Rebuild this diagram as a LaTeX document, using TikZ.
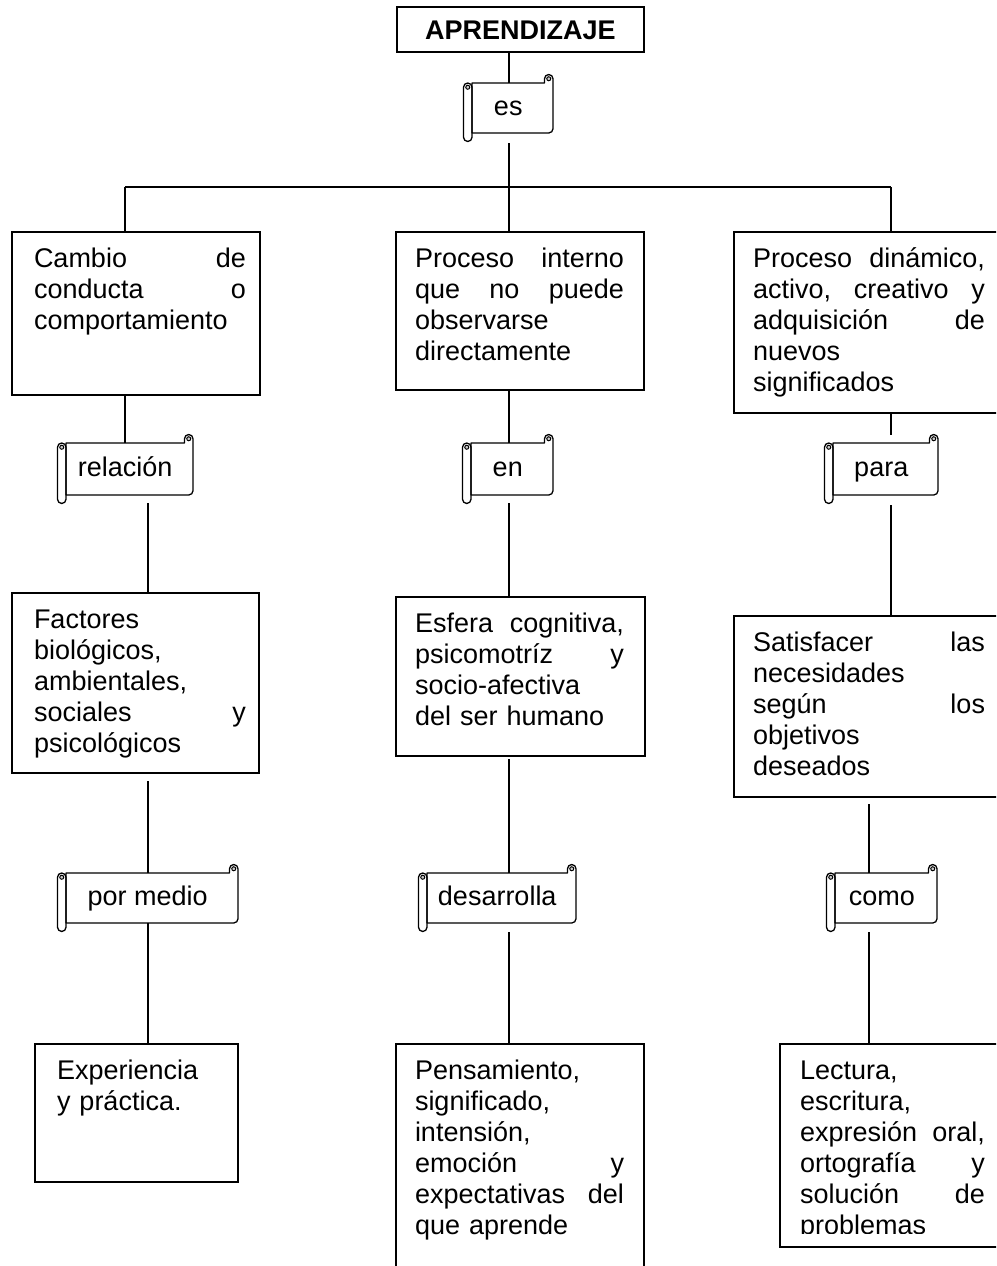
\documentclass[tikz,border=0pt]{standalone}
\usepackage{fontspec}
\setmainfont{Liberation Sans}
\usetikzlibrary{calc}
\newcommand\scrollframe[1]{%
 \path[scrollline] let \p1=(#1.north west), \p2=(#1.south east) in
  (\x1,\y1) -- ({\x2-8.5pt},\y1) -- ({\x2-8.5pt},{\y1+4.25pt})
  arc[start angle=180,end angle=0,radius=4.25pt] -- (\x2,{\y2+4.25pt})
  arc[start angle=0,end angle=-90,radius=4.25pt] -- (\x1,\y2) -- cycle;
 \path[scrollline] let \p1=(#1.north west), \p2=(#1.south east) in
  ({\x1-8.5pt},{\y1-4.25pt}) arc[start angle=180,end angle=0,radius=4.25pt]
  -- (\x1,{\y2-4.25pt}) arc[start angle=0,end angle=-180,radius=4.25pt] -- cycle;
 \path[curl] let \p1=(#1.north west), \p2=(#1.south east) in
  ({\x2-4.25pt},{\y1+4.25pt}) circle[radius=2pt]
  ({\x1-4.25pt},{\y1-4.25pt}) circle[radius=2pt];
}
\begin{document}
\begin{tikzpicture}[x=1pt,y=-1pt,
  every node/.style={inner sep=0pt, outer sep=0pt},
  frame/.style={draw, line width=1.3pt, rectangle, anchor=north west},
  txt/.style={anchor=north west, align=left, font=\fontsize{27}{31}\selectfont},
  scrl/.style={rectangle, font=\fontsize{27}{31}\selectfont, text height=19pt, text depth=5pt},
  scrollline/.style={draw, line width=1.3pt, line join=round},
  curl/.style={draw, line width=1pt, fill=gray!40},
  conn/.style={draw, line width=1.3pt}]
\useasboundingbox (0,0) rectangle (996,1266);
\clip (0,0) rectangle (996,1266);

% title
\node[frame, minimum width=247pt, minimum height=45pt,
      font=\fontsize{27}{31}\selectfont\bfseries, text height=19.4pt, text depth=0pt]
      (A) at (397,7) {APRENDIZAJE};

% column reference coordinates
\coordinate (j1) at (125,187);
\coordinate (j2) at (509,187);
\coordinate (j3) at (891,187);
\coordinate (v1) at (148,0);
\coordinate (v3) at (869,0);

% scrolls
\node[scrl, minimum width=81pt, minimum height=50pt] (es) at (512.5,108) {\kern-8.5pt es};
\node[scrl, minimum width=127pt, minimum height=52pt] (rel) at (129.5,469) {\kern-8.5pt relación};
\node[scrl, minimum width=82pt, minimum height=52pt] (en) at (512,469) {\kern-8.5pt en};
\node[scrl, minimum width=105pt, minimum height=52pt] (para) at (885.5,469) {\kern-8.5pt para};
\node[scrl, minimum width=172pt, minimum height=50pt] (pm) at (152,898) {\kern-8.5pt por medio};
\node[scrl, minimum width=149pt, minimum height=50pt] (des) at (501.5,898) {\kern-8.5pt desarrolla};
\node[scrl, minimum width=102pt, minimum height=50pt] (como) at (886,898) {\kern-8.5pt como};
\scrollframe{es}
\scrollframe{rel}
\scrollframe{en}
\scrollframe{para}
\scrollframe{pm}
\scrollframe{des}
\scrollframe{como}

% boxes row 1
\node[frame, minimum width=248pt, minimum height=163pt] (b1) at (12,232) {};
\node[txt, text width=212pt] (b1t) at (34,242) {\rule{0pt}{25pt}Cambio\hfill de\\conducta\hfill o\\comportamiento};
\node[frame, minimum width=248pt, minimum height=158pt] (b2) at (396,232) {};
\node[txt, text width=209pt] (b2t) at (415,242) {\rule{0pt}{25pt}Proceso\hfill interno\\que\hfill no\hfill puede\\observarse\\directamente};
\node[frame, minimum width=290pt, minimum height=181pt] (b3) at (734,232) {};
\node[txt, text width=232pt] (b3t) at (753,242) {\rule{0pt}{25pt}Proceso\hfill dinámico,\\activo,\hfill creativo\hfill y\\adquisición\hfill de\\nuevos\\significados};

% boxes row 2
\node[frame, minimum width=247pt, minimum height=180pt] (c1) at (12,593) {};
\node[txt, text width=212pt] (c1t) at (34,603) {\rule{0pt}{25pt}Factores\\biológicos,\\ambientales,\\sociales\hfill y\\psicológicos};
\node[frame, minimum width=249pt, minimum height=159pt] (c2) at (396,597) {};
\node[txt, text width=209pt] (c2t) at (415,607) {\rule{0pt}{25pt}Esfera\hfill cognitiva,\\psicomotríz\hfill y\\socio-afectiva\\del ser humano};
\node[frame, minimum width=290pt, minimum height=181pt] (c3) at (734,616) {};
\node[txt, text width=232pt] (c3t) at (753,626) {\rule{0pt}{25pt}Satisfacer\hfill las\\necesidades\\según\hfill los\\objetivos\\deseados};

% boxes row 3
\node[frame, minimum width=203pt, minimum height=138pt] (d1) at (35,1044) {};
\node[txt, text width=170pt] (d1t) at (57,1054) {\rule{0pt}{25pt}Experiencia\\y práctica.};
\node[frame, minimum width=248pt, minimum height=240pt] (d2) at (396,1044) {};
\node[txt, text width=209pt] (d2t) at (415,1054) {\rule{0pt}{25pt}Pensamiento,\\significado,\\intensión,\\emoción\hfill y\\expectativas\hfill del\\que aprende};
\node[frame, minimum width=240pt, minimum height=203pt] (d3) at (780,1044) {};
\begin{scope}
\clip (780,1044) rectangle (1000,1233);
\node[txt, text width=185pt] (d3t) at (800,1054) {\rule{0pt}{25pt}Lectura,\\escritura,\\expresión\hfill oral,\\ortografía\hfill y\\solución\hfill de\\problemas};
\end{scope}

% connectors
\draw[conn] (A.south -| j2) -- (es.north -| j2);
\draw[conn] ($(es.south -| j2)+(0,10)$) -- (j2);
\draw[conn] (j1) -- (j3);
\draw[conn] (j1) -- (b1.north -| j1);
\draw[conn] (j2) -- (b2.north -| j2);
\draw[conn] (j3) -- (b3.north -| j3);

\draw[conn] (b1.south -| j1) -- (rel.north -| j1);
\draw[conn] ($(rel.south -| v1)+(0,8)$) -- (c1.north -| v1);
\draw[conn] ($(c1.south -| v1)+(0,8)$) -- (pm.north -| v1);
\draw[conn] (pm.south -| v1) -- (d1.north -| v1);

\draw[conn] (b2.south -| j2) -- (en.north -| j2);
\draw[conn] ($(en.south -| j2)+(0,8)$) -- (c2.north -| j2);
\draw[conn] ($(c2.south -| j2)+(0,3)$) -- (des.north -| j2);
\draw[conn] ($(des.south -| j2)+(0,9)$) -- (d2.north -| j2);

\draw[conn] (b3.south -| j3) -- ($(para.north -| j3)+(0,-8)$);
\draw[conn] ($(para.south -| j3)+(0,10)$) -- (c3.north -| j3);
\draw[conn] ($(c3.south -| v3)+(0,7)$) -- (como.north -| v3);
\draw[conn] ($(como.south -| v3)+(0,9)$) -- (d3.north -| v3);
\end{tikzpicture}
\end{document}
